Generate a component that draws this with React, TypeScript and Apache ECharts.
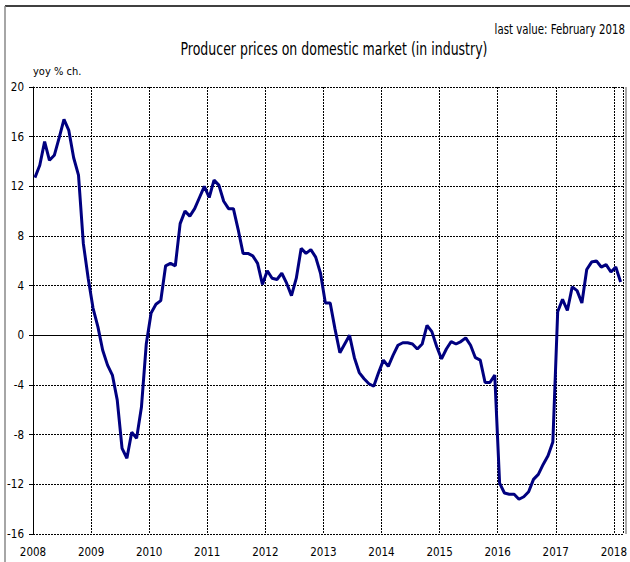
import React, { useEffect, useRef } from "react";
import * as echarts from "echarts";

const yearLabels = ["2008", "2009", "2010", "2011", "2012", "2013", "2014", "2015", "2016", "2017", "2018"];

const y2008 = [12.7, 13.7, 15.6, 14.1, 14.5, 15.9, 17.4, 16.5, 14.3, 12.9, 7.4, 4.6];
const y2009 = [2.2, 0.7, -1.2, -2.4, -3.2, -5.2, -9.1, -9.9, -7.8, -8.3, -5.8, -0.7];
const y2010 = [1.8, 2.5, 2.8, 5.6, 5.8, 5.6, 9.0, 10.0, 9.6, 10.2, 11.1, 12.0];
const y2011 = [11.1, 12.5, 12.1, 10.8, 10.2, 10.2, 8.5, 6.6, 6.6, 6.4, 5.8, 4.1];
const y2012 = [5.2, 4.6, 4.5, 5.0, 4.2, 3.2, 4.6, 7.0, 6.6, 6.9, 6.3, 5.0];
const y2013 = [2.6, 2.6, 0.5, -1.4, -0.7, 0.0, -1.8, -3.0, -3.5, -3.9, -4.1, -3.0];
const y2014 = [-2.0, -2.5, -1.6, -0.8, -0.6, -0.6, -0.7, -1.1, -0.7, 0.8, 0.3, -0.9];
const y2015 = [-1.9, -1.1, -0.5, -0.7, -0.5, -0.2, -0.8, -1.8, -2.0, -3.8, -3.8, -3.2];
const y2016 = [-11.9, -12.7, -12.8, -12.8, -13.2, -13.0, -12.6, -11.6, -11.2, -10.4, -9.7, -8.6];
const y2017 = [1.9, 2.9, 2.0, 3.9, 3.6, 2.6, 5.3, 5.9, 6.0, 5.5, 5.7, 5.1];
const y2018 = [5.5, 4.3];

const yearly = [y2008, y2009, y2010, y2011, y2012, y2013, y2014, y2015, y2016, y2017, y2018];

const titleText = "Producer prices on domestic market (in industry)";
const lastValueText = "last value: February 2018";
const unitText = "yoy % ch.";

const FONT = "'DejaVu Sans Condensed', 'Liberation Sans Narrow', 'Arial Narrow', sans-serif";

export default function App() {
  const ref = useRef<HTMLDivElement>(null);

  useEffect(() => {
    if (!ref.current) return;
    const chart = echarts.init(ref.current, null, { renderer: "svg" });

    const data: [number, number][] = [];
    let idx = 0;
    yearly.forEach((arr) => {
      arr.forEach((v) => {
        data.push([idx + 0.4, v]);
        idx++;
      });
    });

    chart.setOption({
      animation: false,
      backgroundColor: "#ffffff",
      textStyle: { fontFamily: FONT },
      grid: { left: 33, right: 4, top: 87, bottom: 28, containLabel: false },
      xAxis: {
        type: "value",
        min: 0,
        max: 122,
        interval: 12,
        axisLine: { show: true, lineStyle: { color: "#999", width: 1, type: "dashed" } },
        axisTick: { show: false },
        axisLabel: {
          margin: 12,
          fontSize: 11.5,
          color: "#000",
          fontFamily: FONT,
          showMaxLabel: false,
          formatter: (v: number) => (v % 12 === 0 ? yearLabels[v / 12] ?? "" : ""),
        },
        splitLine: { show: true, lineStyle: { color: "#000", width: 1, type: [2, 1] } },
      },
      yAxis: {
        type: "value",
        min: -16,
        max: 20,
        interval: 4,
        name: unitText,
        nameLocation: "end",
        nameGap: 10,
        nameTextStyle: { align: "left", fontFamily: FONT, fontSize: 11, color: "#000" },
        axisLine: { show: true, lineStyle: { color: "#000", width: 1 } },
        axisTick: { show: true, length: 4, lineStyle: { color: "#000" } },
        axisLabel: { margin: 9, fontSize: 11.5, color: "#000", fontFamily: FONT },
        splitLine: { show: true, lineStyle: { color: "#000", width: 1, type: [2, 1] } },
      },
      series: [
        {
          type: "line",
          data,
          symbol: "none",
          lineStyle: { color: "#000080", width: 3 },
          z: 5,
          markLine: {
            silent: true,
            symbol: "none",
            label: { show: false },
            lineStyle: { color: "#000", width: 1, type: "solid" },
            data: [{ yAxis: 0 }],
            z: 3,
          },
        },
      ],
      graphic: [
        { type: "line", shape: { x1: 5, y1: 6, x2: 630, y2: 6 }, style: { stroke: "#000", lineWidth: 1.5 } },
        { type: "line", shape: { x1: 5, y1: 6, x2: 5, y2: 562 }, style: { stroke: "#888", lineWidth: 1.5 } },
        { type: "line", shape: { x1: 626, y1: 87, x2: 626, y2: 534 }, style: { stroke: "#aaa", lineWidth: 2 }, z: 10 },
        {
          type: "text",
          x: 334,
          y: 50,
          scaleX: 0.82,
          style: {
            text: titleText,
            font: `17px ${FONT}`,
            fill: "#000",
            textAlign: "center",
            textVerticalAlign: "middle",
          },
        },
        {
          type: "text",
          x: 625,
          y: 29,
          scaleX: 0.84,
          style: {
            text: lastValueText,
            font: `13.5px ${FONT}`,
            fill: "#000",
            textAlign: "right",
            textVerticalAlign: "middle",
          },
        },
      ],
    });

    return () => chart.dispose();
  }, []);

  return (
    <div
      ref={ref}
      style={{ position: "absolute", left: 0, top: 0, width: 630, height: 562 }}
    />
  );
}
